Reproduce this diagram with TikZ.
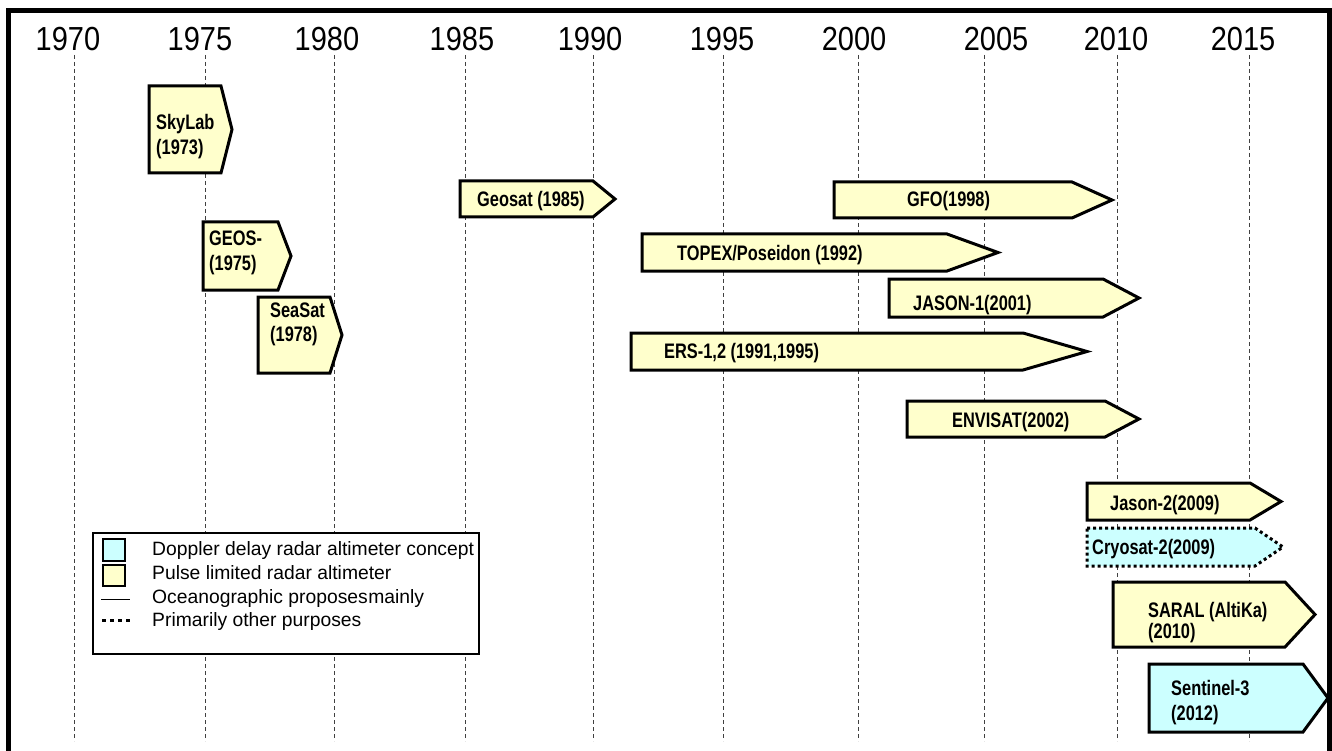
\documentclass[tikz,border=0pt]{standalone}
\usepackage{graphicx}
\usepackage{fontspec}
\setmainfont{Liberation Sans}
\newfontfamily\narrowfont[FakeStretch=0.78]{Liberation Sans}
\definecolor{paleyellow}{HTML}{FFFFCC}
\definecolor{palecyan}{HTML}{CCFFFF}
\tikzset{
  gridline/.style={draw=black!75, line width=1pt, dash pattern=on 4pt off 3pt},
  yearlbl/.style={font=\fontsize{29}{30}\selectfont, anchor=base, inner sep=0pt},
  satbox/.style={line width=3pt, line join=miter, draw=black},
  pulse/.style={satbox, fill=paleyellow},
  doppler/.style={satbox, fill=palecyan},
  dotbox/.style={dash pattern=on 3pt off 3pt},
  satlbl/.style={font=\narrowfont\bfseries\fontsize{21}{24}\selectfont, anchor=base west, inner sep=0pt},
  leglbl/.style={font=\fontsize{19.3}{22}\selectfont, anchor=base west, inner sep=0pt},
  legsq/.style={draw=black, line width=1.6pt},
}
\newcommand\satshape[6]{\path[#1] (#2,#5) -- (#3,#5) -- (#4,{(#5+#6)/2}) -- (#3,#6) -- (#2,#6) -- cycle;}
\begin{document}
\begin{tikzpicture}[x=1pt,y=-1pt]
\useasboundingbox (0,0) rectangle (1332,751);
\fill[white] (0,0) rectangle (1332,751);
% gridlines and year labels
\foreach \yr/\gx/\lx in {1970/74/68,1975/205/200,1980/334/327,1985/465/462,1990/593/590,1995/723/722,2000/858/854,2005/984/996,2010/1117/1116,2015/1249/1243}{
  \coordinate (g\yr a) at (\gx,55);
  \coordinate (g\yr b) at (\gx,741);
  \draw[gridline] (g\yr a) -- (g\yr b);
  \node[yearlbl] (y\yr) at (\lx,51) {\scalebox{1}[1.15]{\yr}};
}
% frame
\draw[line width=5pt, line join=miter] (8.5,751) -- (8.5,11) -- (1329.5,11) -- (1329.5,751);
% satellite boxes
\satshape{pulse}{149}{221}{232}{86}{173}
\node[satlbl] (skylab1) at (156,130) {SkyLab};
\node[satlbl] (skylab2) at (156,155) {(1973)};
\satshape{pulse}{203}{278}{291}{222}{290}
\node[satlbl] (geos1) at (209,246) {GEOS-};
\node[satlbl] (geos2) at (209,270) {(1975)};
\satshape{pulse}{258}{330}{342}{297}{373}
\node[satlbl] (seasat1) at (270,317) {SeaSat};
\node[satlbl] (seasat2) at (270,341) {(1978)};
\satshape{pulse}{460}{593}{615}{181}{217}
\node[satlbl] (geosat) at (477,207) {Geosat (1985)};
\satshape{pulse}{834}{1072}{1112}{182}{218}
\node[satlbl] (gfo) at (907,207) {GFO(1998)};
\satshape{pulse}{642}{947}{998}{234}{271}
\node[satlbl] (topex) at (677,260) {TOPEX/Poseidon (1992)};
\satshape{pulse}{889}{1103}{1139}{279}{317}
\node[satlbl] (jason1) at (913,310) {JASON-1(2001)};
\satshape{pulse}{631}{1023}{1087}{333}{370}
\node[satlbl] (ers) at (664,358) {ERS-1,2 (1991,1995)};
\satshape{pulse}{907}{1105}{1139}{401}{437}
\node[satlbl] (envisat) at (952,427) {ENVISAT(2002)};
\satshape{pulse}{1087}{1250}{1281}{483}{520}
\node[satlbl] (jason2) at (1110,510) {Jason-2(2009)};
\satshape{doppler,dotbox}{1087}{1255}{1283}{528}{566}
\node[satlbl] (cryosat) at (1092,554) {Cryosat-2(2009)};
\satshape{pulse}{1113}{1285}{1315}{582}{647}
\node[satlbl] (saral1) at (1148,617) {SARAL (AltiKa)};
\node[satlbl] (saral2) at (1148,638) {(2010)};
\satshape{doppler}{1149}{1303}{1328}{664}{732}
\node[satlbl] (sentinel1) at (1171,695) {Sentinel-3};
\node[satlbl] (sentinel2) at (1171,720) {(2012)};
% legend
\fill[white] (93,533) rectangle (479,654);
\draw[legsq, fill=palecyan] (103,539) rectangle (125,561);
\draw[legsq, fill=paleyellow] (103,565) rectangle (125,586);
\coordinate (sa) at (101,599); \coordinate (sb) at (130,599);
\draw[line width=1pt] (sa) -- (sb);
\coordinate (da) at (102,620); \coordinate (db) at (131,620);
\draw[line width=3pt, dash pattern=on 4pt off 4pt] (da) -- (db);
\node[leglbl] (leg1) at (152,555) {Doppler delay radar altimeter concept};
\node[leglbl] (leg2) at (152,579) {Pulse limited radar altimeter};
\node[leglbl] (leg3) at (152,603) {Oceanographic proposes\hspace{0.5pt}mainly};
\node[leglbl] (leg4) at (152,626) {Primarily other purposes};
\fill[white] (480,540) rectangle (500,560);
\draw[line width=2pt] (93,533) rectangle (479,654);
\end{tikzpicture}
\end{document}
